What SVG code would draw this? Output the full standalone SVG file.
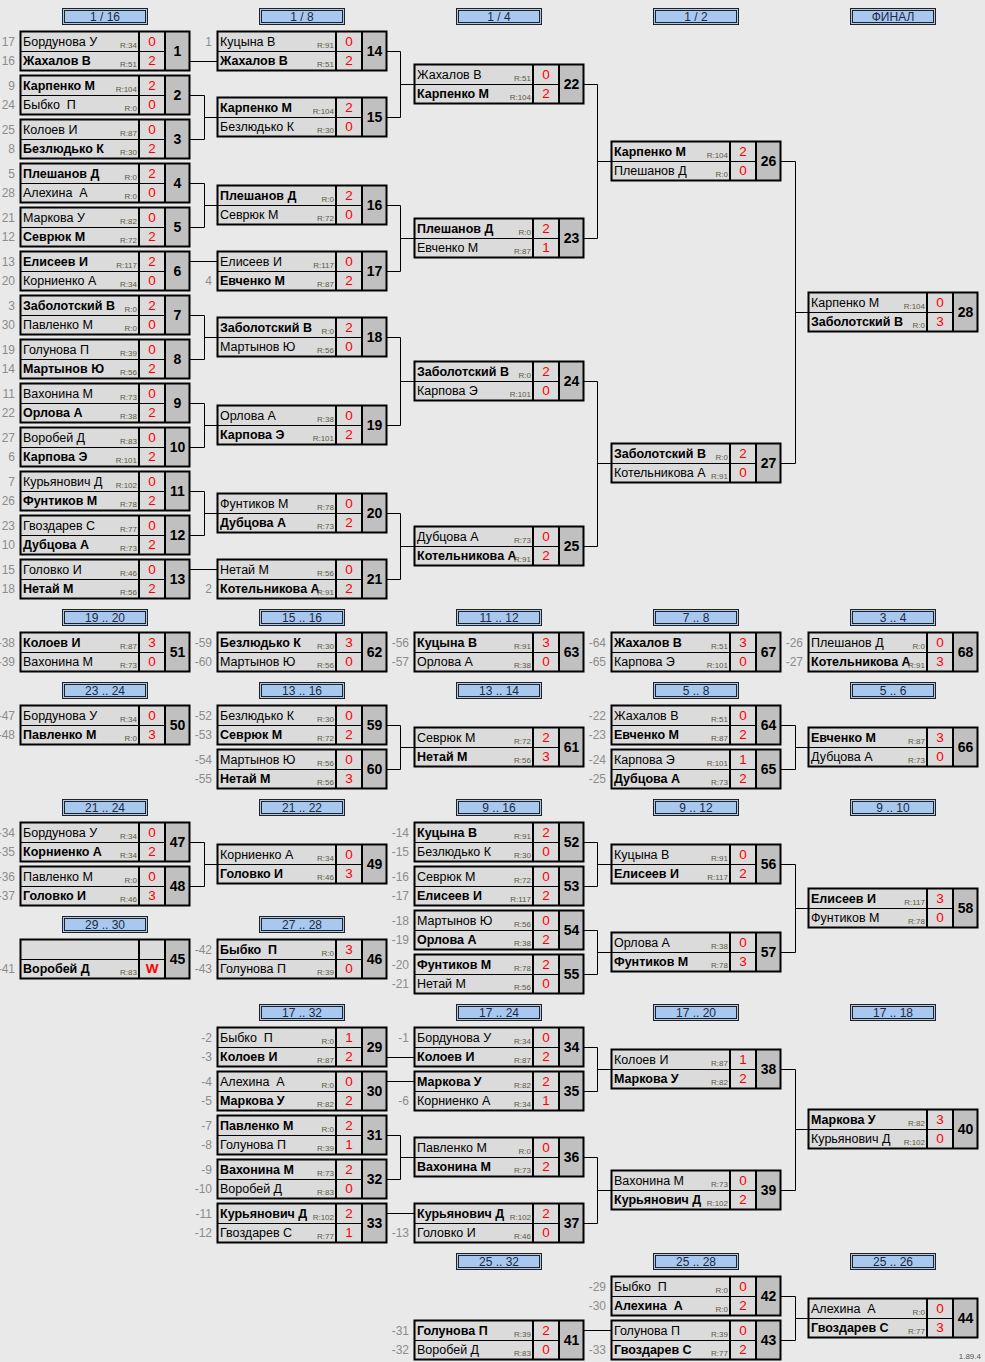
<svg xmlns="http://www.w3.org/2000/svg" width="985" height="1362" viewBox="0 0 985 1362">
<style>
text{font-family:"Liberation Sans",Arial,sans-serif}
.n{font-size:12.5px;fill:#000}
.w{font-weight:bold}
.r{font-size:8px;fill:#5e5845;text-anchor:end}
.s{font-size:13.5px;fill:#f00;text-anchor:middle}
.k{font-size:14px;font-weight:bold;text-anchor:middle;fill:#000}
.d{font-size:12px;fill:#8c8c8c;text-anchor:end}
.h{font-size:12px;fill:#1c2a44;text-anchor:middle}
.c{fill:none;stroke:#000;stroke-width:1}
</style>
<defs>
<g id="bx">
<rect x="0.5" y="0.5" width="169" height="39" fill="#dbdbdb"/>
<rect x="145" y="0.5" width="24.5" height="39" fill="#c0c0c0"/>
<path d="M1 20.5H145" stroke="#000" stroke-width="1"/>
<path d="M119 1V39M145 1V39" stroke="#000" stroke-width="2"/>
<rect x="0.5" y="0.5" width="169" height="39" fill="none" stroke="#000" stroke-width="2"/>
</g>
<g id="hd">
<rect x="0.5" y="0.5" width="85" height="16" fill="#a8c8f0" stroke="#222"/>
<rect x="2.5" y="2.5" width="81" height="12" fill="none" stroke="#222"/>
</g>
</defs>
<rect width="985" height="1362" fill="#e9e9e9"/>

<g id="headers">
<g transform="translate(62,8)"><use href="#hd"/><text class="h" x="43" y="13">1 / 16</text></g>
<g transform="translate(259,8)"><use href="#hd"/><text class="h" x="43" y="13">1 / 8</text></g>
<g transform="translate(456,8)"><use href="#hd"/><text class="h" x="43" y="13">1 / 4</text></g>
<g transform="translate(653,8)"><use href="#hd"/><text class="h" x="43" y="13">1 / 2</text></g>
<g transform="translate(850,8)"><use href="#hd"/><text class="h" x="43" y="13">ФИНАЛ</text></g>
<g transform="translate(62,609)"><use href="#hd"/><text class="h" x="43" y="13">19 .. 20</text></g>
<g transform="translate(259,609)"><use href="#hd"/><text class="h" x="43" y="13">15 .. 16</text></g>
<g transform="translate(456,609)"><use href="#hd"/><text class="h" x="43" y="13">11 .. 12</text></g>
<g transform="translate(653,609)"><use href="#hd"/><text class="h" x="43" y="13">7 .. 8</text></g>
<g transform="translate(850,609)"><use href="#hd"/><text class="h" x="43" y="13">3 .. 4</text></g>
<g transform="translate(62,682)"><use href="#hd"/><text class="h" x="43" y="13">23 .. 24</text></g>
<g transform="translate(259,682)"><use href="#hd"/><text class="h" x="43" y="13">13 .. 16</text></g>
<g transform="translate(456,682)"><use href="#hd"/><text class="h" x="43" y="13">13 .. 14</text></g>
<g transform="translate(653,682)"><use href="#hd"/><text class="h" x="43" y="13">5 .. 8</text></g>
<g transform="translate(850,682)"><use href="#hd"/><text class="h" x="43" y="13">5 .. 6</text></g>
<g transform="translate(62,799)"><use href="#hd"/><text class="h" x="43" y="13">21 .. 24</text></g>
<g transform="translate(259,799)"><use href="#hd"/><text class="h" x="43" y="13">21 .. 22</text></g>
<g transform="translate(456,799)"><use href="#hd"/><text class="h" x="43" y="13">9 .. 16</text></g>
<g transform="translate(653,799)"><use href="#hd"/><text class="h" x="43" y="13">9 .. 12</text></g>
<g transform="translate(850,799)"><use href="#hd"/><text class="h" x="43" y="13">9 .. 10</text></g>
<g transform="translate(62,916)"><use href="#hd"/><text class="h" x="43" y="13">29 .. 30</text></g>
<g transform="translate(259,916)"><use href="#hd"/><text class="h" x="43" y="13">27 .. 28</text></g>
<g transform="translate(259,1004)"><use href="#hd"/><text class="h" x="43" y="13">17 .. 32</text></g>
<g transform="translate(456,1004)"><use href="#hd"/><text class="h" x="43" y="13">17 .. 24</text></g>
<g transform="translate(653,1004)"><use href="#hd"/><text class="h" x="43" y="13">17 .. 20</text></g>
<g transform="translate(850,1004)"><use href="#hd"/><text class="h" x="43" y="13">17 .. 18</text></g>
<g transform="translate(456,1253)"><use href="#hd"/><text class="h" x="43" y="13">25 .. 32</text></g>
<g transform="translate(653,1253)"><use href="#hd"/><text class="h" x="43" y="13">25 .. 28</text></g>
<g transform="translate(850,1253)"><use href="#hd"/><text class="h" x="43" y="13">25 .. 26</text></g>
</g>

<g id="connectors" class="c">
<path d="M190 61.5H217"/>
<path d="M190 95.5H204.5V139.5H190M204.5 117.5H217"/>
<path d="M190 183.5H204.5V227.5H190M204.5 205.5H217"/>
<path d="M190 261.5H217"/>
<path d="M190 315.5H204.5V359.5H190M204.5 337.5H217"/>
<path d="M190 403.5H204.5V447.5H190M204.5 425.5H217"/>
<path d="M190 491.5H204.5V535.5H190M204.5 513.5H217"/>
<path d="M190 569.5H217"/>
<path d="M387 51.5H400.5V117.5H387M400.5 84.5H414"/>
<path d="M387 205.5H400.5V271.5H387M400.5 238.5H414"/>
<path d="M387 337.5H400.5V425.5H387M400.5 381.5H414"/>
<path d="M387 513.5H400.5V579.5H387M400.5 546.5H414"/>
<path d="M584 84.5H597.5V238.5H584M597.5 161.5H611"/>
<path d="M584 381.5H597.5V546.5H584M597.5 463.5H611"/>
<path d="M781 161.5H795.5V463.5H781M795.5 312.5H808"/>
<path d="M387 725.5H400.5V769.5H387M400.5 747.5H414"/>
<path d="M781 725.5H795.5V769.5H781M795.5 747.5H808"/>
<path d="M190 842.5H204.5V886.5H190M204.5 864.5H217"/>
<path d="M584 842.5H597.5V886.5H584M597.5 864.5H611"/>
<path d="M584 930.5H597.5V974.5H584M597.5 952.5H611"/>
<path d="M781 864.5H795.5V952.5H781M795.5 908.5H808"/>
<path d="M387 1057.5H414"/>
<path d="M387 1081.5H414"/>
<path d="M387 1135.5H400.5V1179.5H387M400.5 1157.5H414"/>
<path d="M387 1213.5H414"/>
<path d="M584 1047.5H597.5V1091.5H584M597.5 1069.5H611"/>
<path d="M584 1157.5H597.5V1223.5H584M597.5 1190.5H611"/>
<path d="M781 1069.5H795.5V1190.5H781M795.5 1129.5H808"/>
<path d="M584 1330.5H611"/>
<path d="M781 1296.5H795.5V1340.5H781M795.5 1318.5H808"/>
</g>

<g id="m1" transform="translate(20,31)"><use href="#bx"/><text class="d" x="-5" y="15">17</text><text class="d" x="-5" y="34">16</text><text class="n" x="3" y="15">Бордунова У</text><text class="r" x="117" y="17">R:34</text><text class="s" x="132" y="14.5">0</text><text class="n w" x="3" y="34">Жахалов В</text><text class="r" x="117" y="36">R:51</text><text class="s" x="132" y="33.5">2</text><text class="k" x="157.5" y="25">1</text></g>
<g id="m2" transform="translate(20,75)"><use href="#bx"/><text class="d" x="-5" y="15">9</text><text class="d" x="-5" y="34">24</text><text class="n w" x="3" y="15">Карпенко М</text><text class="r" x="117" y="17">R:104</text><text class="s" x="132" y="14.5">2</text><text class="n" x="3" y="34">Быбко&#160; П</text><text class="r" x="117" y="36">R:0</text><text class="s" x="132" y="33.5">0</text><text class="k" x="157.5" y="25">2</text></g>
<g id="m3" transform="translate(20,119)"><use href="#bx"/><text class="d" x="-5" y="15">25</text><text class="d" x="-5" y="34">8</text><text class="n" x="3" y="15">Колоев И</text><text class="r" x="117" y="17">R:87</text><text class="s" x="132" y="14.5">0</text><text class="n w" x="3" y="34">Безлюдько К</text><text class="r" x="117" y="36">R:30</text><text class="s" x="132" y="33.5">2</text><text class="k" x="157.5" y="25">3</text></g>
<g id="m4" transform="translate(20,163)"><use href="#bx"/><text class="d" x="-5" y="15">5</text><text class="d" x="-5" y="34">28</text><text class="n w" x="3" y="15">Плешанов Д</text><text class="r" x="117" y="17">R:0</text><text class="s" x="132" y="14.5">2</text><text class="n" x="3" y="34">Алехина&#160; А</text><text class="r" x="117" y="36">R:0</text><text class="s" x="132" y="33.5">0</text><text class="k" x="157.5" y="25">4</text></g>
<g id="m5" transform="translate(20,207)"><use href="#bx"/><text class="d" x="-5" y="15">21</text><text class="d" x="-5" y="34">12</text><text class="n" x="3" y="15">Маркова У</text><text class="r" x="117" y="17">R:82</text><text class="s" x="132" y="14.5">0</text><text class="n w" x="3" y="34">Севрюк М</text><text class="r" x="117" y="36">R:72</text><text class="s" x="132" y="33.5">2</text><text class="k" x="157.5" y="25">5</text></g>
<g id="m6" transform="translate(20,251)"><use href="#bx"/><text class="d" x="-5" y="15">13</text><text class="d" x="-5" y="34">20</text><text class="n w" x="3" y="15">Елисеев И</text><text class="r" x="117" y="17">R:117</text><text class="s" x="132" y="14.5">2</text><text class="n" x="3" y="34">Корниенко А</text><text class="r" x="117" y="36">R:34</text><text class="s" x="132" y="33.5">0</text><text class="k" x="157.5" y="25">6</text></g>
<g id="m7" transform="translate(20,295)"><use href="#bx"/><text class="d" x="-5" y="15">3</text><text class="d" x="-5" y="34">30</text><text class="n w" x="3" y="15">Заболотский В</text><text class="r" x="117" y="17">R:0</text><text class="s" x="132" y="14.5">2</text><text class="n" x="3" y="34">Павленко М</text><text class="r" x="117" y="36">R:0</text><text class="s" x="132" y="33.5">0</text><text class="k" x="157.5" y="25">7</text></g>
<g id="m8" transform="translate(20,339)"><use href="#bx"/><text class="d" x="-5" y="15">19</text><text class="d" x="-5" y="34">14</text><text class="n" x="3" y="15">Голунова П</text><text class="r" x="117" y="17">R:39</text><text class="s" x="132" y="14.5">0</text><text class="n w" x="3" y="34">Мартынов Ю</text><text class="r" x="117" y="36">R:56</text><text class="s" x="132" y="33.5">2</text><text class="k" x="157.5" y="25">8</text></g>
<g id="m9" transform="translate(20,383)"><use href="#bx"/><text class="d" x="-5" y="15">11</text><text class="d" x="-5" y="34">22</text><text class="n" x="3" y="15">Вахонина М</text><text class="r" x="117" y="17">R:73</text><text class="s" x="132" y="14.5">0</text><text class="n w" x="3" y="34">Орлова А</text><text class="r" x="117" y="36">R:38</text><text class="s" x="132" y="33.5">2</text><text class="k" x="157.5" y="25">9</text></g>
<g id="m10" transform="translate(20,427)"><use href="#bx"/><text class="d" x="-5" y="15">27</text><text class="d" x="-5" y="34">6</text><text class="n" x="3" y="15">Воробей Д</text><text class="r" x="117" y="17">R:83</text><text class="s" x="132" y="14.5">0</text><text class="n w" x="3" y="34">Карпова Э</text><text class="r" x="117" y="36">R:101</text><text class="s" x="132" y="33.5">2</text><text class="k" x="157.5" y="25">10</text></g>
<g id="m11" transform="translate(20,471)"><use href="#bx"/><text class="d" x="-5" y="15">7</text><text class="d" x="-5" y="34">26</text><text class="n" x="3" y="15">Курьянович Д</text><text class="r" x="117" y="17">R:102</text><text class="s" x="132" y="14.5">0</text><text class="n w" x="3" y="34">Фунтиков М</text><text class="r" x="117" y="36">R:78</text><text class="s" x="132" y="33.5">2</text><text class="k" x="157.5" y="25">11</text></g>
<g id="m12" transform="translate(20,515)"><use href="#bx"/><text class="d" x="-5" y="15">23</text><text class="d" x="-5" y="34">10</text><text class="n" x="3" y="15">Гвоздарев С</text><text class="r" x="117" y="17">R:77</text><text class="s" x="132" y="14.5">0</text><text class="n w" x="3" y="34">Дубцова А</text><text class="r" x="117" y="36">R:73</text><text class="s" x="132" y="33.5">2</text><text class="k" x="157.5" y="25">12</text></g>
<g id="m13" transform="translate(20,559)"><use href="#bx"/><text class="d" x="-5" y="15">15</text><text class="d" x="-5" y="34">18</text><text class="n" x="3" y="15">Головко И</text><text class="r" x="117" y="17">R:46</text><text class="s" x="132" y="14.5">0</text><text class="n w" x="3" y="34">Нетай М</text><text class="r" x="117" y="36">R:56</text><text class="s" x="132" y="33.5">2</text><text class="k" x="157.5" y="25">13</text></g>

<g id="m14" transform="translate(217,31)"><use href="#bx"/><text class="d" x="-5" y="15">1</text><text class="n" x="3" y="15">Куцына В</text><text class="r" x="117" y="17">R:91</text><text class="s" x="132" y="14.5">0</text><text class="n w" x="3" y="34">Жахалов В</text><text class="r" x="117" y="36">R:51</text><text class="s" x="132" y="33.5">2</text><text class="k" x="157.5" y="25">14</text></g>
<g id="m15" transform="translate(217,97)"><use href="#bx"/><text class="n w" x="3" y="15">Карпенко М</text><text class="r" x="117" y="17">R:104</text><text class="s" x="132" y="14.5">2</text><text class="n" x="3" y="34">Безлюдько К</text><text class="r" x="117" y="36">R:30</text><text class="s" x="132" y="33.5">0</text><text class="k" x="157.5" y="25">15</text></g>
<g id="m16" transform="translate(217,185)"><use href="#bx"/><text class="n w" x="3" y="15">Плешанов Д</text><text class="r" x="117" y="17">R:0</text><text class="s" x="132" y="14.5">2</text><text class="n" x="3" y="34">Севрюк М</text><text class="r" x="117" y="36">R:72</text><text class="s" x="132" y="33.5">0</text><text class="k" x="157.5" y="25">16</text></g>
<g id="m17" transform="translate(217,251)"><use href="#bx"/><text class="d" x="-5" y="34">4</text><text class="n" x="3" y="15">Елисеев И</text><text class="r" x="117" y="17">R:117</text><text class="s" x="132" y="14.5">0</text><text class="n w" x="3" y="34">Евченко М</text><text class="r" x="117" y="36">R:87</text><text class="s" x="132" y="33.5">2</text><text class="k" x="157.5" y="25">17</text></g>
<g id="m18" transform="translate(217,317)"><use href="#bx"/><text class="n w" x="3" y="15">Заболотский В</text><text class="r" x="117" y="17">R:0</text><text class="s" x="132" y="14.5">2</text><text class="n" x="3" y="34">Мартынов Ю</text><text class="r" x="117" y="36">R:56</text><text class="s" x="132" y="33.5">0</text><text class="k" x="157.5" y="25">18</text></g>
<g id="m19" transform="translate(217,405)"><use href="#bx"/><text class="n" x="3" y="15">Орлова А</text><text class="r" x="117" y="17">R:38</text><text class="s" x="132" y="14.5">0</text><text class="n w" x="3" y="34">Карпова Э</text><text class="r" x="117" y="36">R:101</text><text class="s" x="132" y="33.5">2</text><text class="k" x="157.5" y="25">19</text></g>
<g id="m20" transform="translate(217,493)"><use href="#bx"/><text class="n" x="3" y="15">Фунтиков М</text><text class="r" x="117" y="17">R:78</text><text class="s" x="132" y="14.5">0</text><text class="n w" x="3" y="34">Дубцова А</text><text class="r" x="117" y="36">R:73</text><text class="s" x="132" y="33.5">2</text><text class="k" x="157.5" y="25">20</text></g>
<g id="m21" transform="translate(217,559)"><use href="#bx"/><text class="d" x="-5" y="34">2</text><text class="n" x="3" y="15">Нетай М</text><text class="r" x="117" y="17">R:56</text><text class="s" x="132" y="14.5">0</text><text class="n w" x="3" y="34">Котельникова А</text><text class="r" x="117" y="36">R:91</text><text class="s" x="132" y="33.5">2</text><text class="k" x="157.5" y="25">21</text></g>

<g id="m22" transform="translate(414,64)"><use href="#bx"/><text class="n" x="3" y="15">Жахалов В</text><text class="r" x="117" y="17">R:51</text><text class="s" x="132" y="14.5">0</text><text class="n w" x="3" y="34">Карпенко М</text><text class="r" x="117" y="36">R:104</text><text class="s" x="132" y="33.5">2</text><text class="k" x="157.5" y="25">22</text></g>
<g id="m23" transform="translate(414,218)"><use href="#bx"/><text class="n w" x="3" y="15">Плешанов Д</text><text class="r" x="117" y="17">R:0</text><text class="s" x="132" y="14.5">2</text><text class="n" x="3" y="34">Евченко М</text><text class="r" x="117" y="36">R:87</text><text class="s" x="132" y="33.5">1</text><text class="k" x="157.5" y="25">23</text></g>
<g id="m24" transform="translate(414,361)"><use href="#bx"/><text class="n w" x="3" y="15">Заболотский В</text><text class="r" x="117" y="17">R:0</text><text class="s" x="132" y="14.5">2</text><text class="n" x="3" y="34">Карпова Э</text><text class="r" x="117" y="36">R:101</text><text class="s" x="132" y="33.5">0</text><text class="k" x="157.5" y="25">24</text></g>
<g id="m25" transform="translate(414,526)"><use href="#bx"/><text class="n" x="3" y="15">Дубцова А</text><text class="r" x="117" y="17">R:73</text><text class="s" x="132" y="14.5">0</text><text class="n w" x="3" y="34">Котельникова А</text><text class="r" x="117" y="36">R:91</text><text class="s" x="132" y="33.5">2</text><text class="k" x="157.5" y="25">25</text></g>
<g id="m26" transform="translate(611,141)"><use href="#bx"/><text class="n w" x="3" y="15">Карпенко М</text><text class="r" x="117" y="17">R:104</text><text class="s" x="132" y="14.5">2</text><text class="n" x="3" y="34">Плешанов Д</text><text class="r" x="117" y="36">R:0</text><text class="s" x="132" y="33.5">0</text><text class="k" x="157.5" y="25">26</text></g>
<g id="m27" transform="translate(611,443)"><use href="#bx"/><text class="n w" x="3" y="15">Заболотский В</text><text class="r" x="117" y="17">R:0</text><text class="s" x="132" y="14.5">2</text><text class="n" x="3" y="34">Котельникова А</text><text class="r" x="117" y="36">R:91</text><text class="s" x="132" y="33.5">0</text><text class="k" x="157.5" y="25">27</text></g>
<g id="m28" transform="translate(808,292)"><use href="#bx"/><text class="n" x="3" y="15">Карпенко М</text><text class="r" x="117" y="17">R:104</text><text class="s" x="132" y="14.5">0</text><text class="n w" x="3" y="34">Заболотский В</text><text class="r" x="117" y="36">R:0</text><text class="s" x="132" y="33.5">3</text><text class="k" x="157.5" y="25">28</text></g>

<g id="m51" transform="translate(20,632)"><use href="#bx"/><text class="d" x="-5" y="15">-38</text><text class="d" x="-5" y="34">-39</text><text class="n w" x="3" y="15">Колоев И</text><text class="r" x="117" y="17">R:87</text><text class="s" x="132" y="14.5">3</text><text class="n" x="3" y="34">Вахонина М</text><text class="r" x="117" y="36">R:73</text><text class="s" x="132" y="33.5">0</text><text class="k" x="157.5" y="25">51</text></g>
<g id="m62" transform="translate(217,632)"><use href="#bx"/><text class="d" x="-5" y="15">-59</text><text class="d" x="-5" y="34">-60</text><text class="n w" x="3" y="15">Безлюдько К</text><text class="r" x="117" y="17">R:30</text><text class="s" x="132" y="14.5">3</text><text class="n" x="3" y="34">Мартынов Ю</text><text class="r" x="117" y="36">R:56</text><text class="s" x="132" y="33.5">0</text><text class="k" x="157.5" y="25">62</text></g>
<g id="m63" transform="translate(414,632)"><use href="#bx"/><text class="d" x="-5" y="15">-56</text><text class="d" x="-5" y="34">-57</text><text class="n w" x="3" y="15">Куцына В</text><text class="r" x="117" y="17">R:91</text><text class="s" x="132" y="14.5">3</text><text class="n" x="3" y="34">Орлова А</text><text class="r" x="117" y="36">R:38</text><text class="s" x="132" y="33.5">0</text><text class="k" x="157.5" y="25">63</text></g>
<g id="m67" transform="translate(611,632)"><use href="#bx"/><text class="d" x="-5" y="15">-64</text><text class="d" x="-5" y="34">-65</text><text class="n w" x="3" y="15">Жахалов В</text><text class="r" x="117" y="17">R:51</text><text class="s" x="132" y="14.5">3</text><text class="n" x="3" y="34">Карпова Э</text><text class="r" x="117" y="36">R:101</text><text class="s" x="132" y="33.5">0</text><text class="k" x="157.5" y="25">67</text></g>
<g id="m68" transform="translate(808,632)"><use href="#bx"/><text class="d" x="-5" y="15">-26</text><text class="d" x="-5" y="34">-27</text><text class="n" x="3" y="15">Плешанов Д</text><text class="r" x="117" y="17">R:0</text><text class="s" x="132" y="14.5">0</text><text class="n w" x="3" y="34">Котельникова А</text><text class="r" x="117" y="36">R:91</text><text class="s" x="132" y="33.5">3</text><text class="k" x="157.5" y="25">68</text></g>

<g id="m50" transform="translate(20,705)"><use href="#bx"/><text class="d" x="-5" y="15">-47</text><text class="d" x="-5" y="34">-48</text><text class="n" x="3" y="15">Бордунова У</text><text class="r" x="117" y="17">R:34</text><text class="s" x="132" y="14.5">0</text><text class="n w" x="3" y="34">Павленко М</text><text class="r" x="117" y="36">R:0</text><text class="s" x="132" y="33.5">3</text><text class="k" x="157.5" y="25">50</text></g>
<g id="m59" transform="translate(217,705)"><use href="#bx"/><text class="d" x="-5" y="15">-52</text><text class="d" x="-5" y="34">-53</text><text class="n" x="3" y="15">Безлюдько К</text><text class="r" x="117" y="17">R:30</text><text class="s" x="132" y="14.5">0</text><text class="n w" x="3" y="34">Севрюк М</text><text class="r" x="117" y="36">R:72</text><text class="s" x="132" y="33.5">2</text><text class="k" x="157.5" y="25">59</text></g>
<g id="m60" transform="translate(217,749)"><use href="#bx"/><text class="d" x="-5" y="15">-54</text><text class="d" x="-5" y="34">-55</text><text class="n" x="3" y="15">Мартынов Ю</text><text class="r" x="117" y="17">R:56</text><text class="s" x="132" y="14.5">0</text><text class="n w" x="3" y="34">Нетай М</text><text class="r" x="117" y="36">R:56</text><text class="s" x="132" y="33.5">3</text><text class="k" x="157.5" y="25">60</text></g>
<g id="m61" transform="translate(414,727)"><use href="#bx"/><text class="n" x="3" y="15">Севрюк М</text><text class="r" x="117" y="17">R:72</text><text class="s" x="132" y="14.5">2</text><text class="n w" x="3" y="34">Нетай М</text><text class="r" x="117" y="36">R:56</text><text class="s" x="132" y="33.5">3</text><text class="k" x="157.5" y="25">61</text></g>
<g id="m64" transform="translate(611,705)"><use href="#bx"/><text class="d" x="-5" y="15">-22</text><text class="d" x="-5" y="34">-23</text><text class="n" x="3" y="15">Жахалов В</text><text class="r" x="117" y="17">R:51</text><text class="s" x="132" y="14.5">0</text><text class="n w" x="3" y="34">Евченко М</text><text class="r" x="117" y="36">R:87</text><text class="s" x="132" y="33.5">2</text><text class="k" x="157.5" y="25">64</text></g>
<g id="m65" transform="translate(611,749)"><use href="#bx"/><text class="d" x="-5" y="15">-24</text><text class="d" x="-5" y="34">-25</text><text class="n" x="3" y="15">Карпова Э</text><text class="r" x="117" y="17">R:101</text><text class="s" x="132" y="14.5">1</text><text class="n w" x="3" y="34">Дубцова А</text><text class="r" x="117" y="36">R:73</text><text class="s" x="132" y="33.5">2</text><text class="k" x="157.5" y="25">65</text></g>
<g id="m66" transform="translate(808,727)"><use href="#bx"/><text class="n w" x="3" y="15">Евченко М</text><text class="r" x="117" y="17">R:87</text><text class="s" x="132" y="14.5">3</text><text class="n" x="3" y="34">Дубцова А</text><text class="r" x="117" y="36">R:73</text><text class="s" x="132" y="33.5">0</text><text class="k" x="157.5" y="25">66</text></g>

<g id="m47" transform="translate(20,822)"><use href="#bx"/><text class="d" x="-5" y="15">-34</text><text class="d" x="-5" y="34">-35</text><text class="n" x="3" y="15">Бордунова У</text><text class="r" x="117" y="17">R:34</text><text class="s" x="132" y="14.5">0</text><text class="n w" x="3" y="34">Корниенко А</text><text class="r" x="117" y="36">R:34</text><text class="s" x="132" y="33.5">2</text><text class="k" x="157.5" y="25">47</text></g>
<g id="m48" transform="translate(20,866)"><use href="#bx"/><text class="d" x="-5" y="15">-36</text><text class="d" x="-5" y="34">-37</text><text class="n" x="3" y="15">Павленко М</text><text class="r" x="117" y="17">R:0</text><text class="s" x="132" y="14.5">0</text><text class="n w" x="3" y="34">Головко И</text><text class="r" x="117" y="36">R:46</text><text class="s" x="132" y="33.5">3</text><text class="k" x="157.5" y="25">48</text></g>
<g id="m49" transform="translate(217,844)"><use href="#bx"/><text class="n" x="3" y="15">Корниенко А</text><text class="r" x="117" y="17">R:34</text><text class="s" x="132" y="14.5">0</text><text class="n w" x="3" y="34">Головко И</text><text class="r" x="117" y="36">R:46</text><text class="s" x="132" y="33.5">3</text><text class="k" x="157.5" y="25">49</text></g>
<g id="m52" transform="translate(414,822)"><use href="#bx"/><text class="d" x="-5" y="15">-14</text><text class="d" x="-5" y="34">-15</text><text class="n w" x="3" y="15">Куцына В</text><text class="r" x="117" y="17">R:91</text><text class="s" x="132" y="14.5">2</text><text class="n" x="3" y="34">Безлюдько К</text><text class="r" x="117" y="36">R:30</text><text class="s" x="132" y="33.5">0</text><text class="k" x="157.5" y="25">52</text></g>
<g id="m53" transform="translate(414,866)"><use href="#bx"/><text class="d" x="-5" y="15">-16</text><text class="d" x="-5" y="34">-17</text><text class="n" x="3" y="15">Севрюк М</text><text class="r" x="117" y="17">R:72</text><text class="s" x="132" y="14.5">0</text><text class="n w" x="3" y="34">Елисеев И</text><text class="r" x="117" y="36">R:117</text><text class="s" x="132" y="33.5">2</text><text class="k" x="157.5" y="25">53</text></g>
<g id="m54" transform="translate(414,910)"><use href="#bx"/><text class="d" x="-5" y="15">-18</text><text class="d" x="-5" y="34">-19</text><text class="n" x="3" y="15">Мартынов Ю</text><text class="r" x="117" y="17">R:56</text><text class="s" x="132" y="14.5">0</text><text class="n w" x="3" y="34">Орлова А</text><text class="r" x="117" y="36">R:38</text><text class="s" x="132" y="33.5">2</text><text class="k" x="157.5" y="25">54</text></g>
<g id="m55" transform="translate(414,954)"><use href="#bx"/><text class="d" x="-5" y="15">-20</text><text class="d" x="-5" y="34">-21</text><text class="n w" x="3" y="15">Фунтиков М</text><text class="r" x="117" y="17">R:78</text><text class="s" x="132" y="14.5">2</text><text class="n" x="3" y="34">Нетай М</text><text class="r" x="117" y="36">R:56</text><text class="s" x="132" y="33.5">0</text><text class="k" x="157.5" y="25">55</text></g>
<g id="m56" transform="translate(611,844)"><use href="#bx"/><text class="n" x="3" y="15">Куцына В</text><text class="r" x="117" y="17">R:91</text><text class="s" x="132" y="14.5">0</text><text class="n w" x="3" y="34">Елисеев И</text><text class="r" x="117" y="36">R:117</text><text class="s" x="132" y="33.5">2</text><text class="k" x="157.5" y="25">56</text></g>
<g id="m57" transform="translate(611,932)"><use href="#bx"/><text class="n" x="3" y="15">Орлова А</text><text class="r" x="117" y="17">R:38</text><text class="s" x="132" y="14.5">0</text><text class="n w" x="3" y="34">Фунтиков М</text><text class="r" x="117" y="36">R:78</text><text class="s" x="132" y="33.5">3</text><text class="k" x="157.5" y="25">57</text></g>
<g id="m58" transform="translate(808,888)"><use href="#bx"/><text class="n w" x="3" y="15">Елисеев И</text><text class="r" x="117" y="17">R:117</text><text class="s" x="132" y="14.5">3</text><text class="n" x="3" y="34">Фунтиков М</text><text class="r" x="117" y="36">R:78</text><text class="s" x="132" y="33.5">0</text><text class="k" x="157.5" y="25">58</text></g>

<g id="m45" transform="translate(20,939)"><use href="#bx"/><text class="d" x="-5" y="34">-41</text><text class="n w" x="3" y="34">Воробей Д</text><text class="r" x="117" y="36">R:83</text><text class="s w" x="132" y="33.5">W</text><text class="k" x="157.5" y="25">45</text></g>
<g id="m46" transform="translate(217,939)"><use href="#bx"/><text class="d" x="-5" y="15">-42</text><text class="d" x="-5" y="34">-43</text><text class="n w" x="3" y="15">Быбко&#160; П</text><text class="r" x="117" y="17">R:0</text><text class="s" x="132" y="14.5">3</text><text class="n" x="3" y="34">Голунова П</text><text class="r" x="117" y="36">R:39</text><text class="s" x="132" y="33.5">0</text><text class="k" x="157.5" y="25">46</text></g>

<g id="m29" transform="translate(217,1027)"><use href="#bx"/><text class="d" x="-5" y="15">-2</text><text class="d" x="-5" y="34">-3</text><text class="n" x="3" y="15">Быбко&#160; П</text><text class="r" x="117" y="17">R:0</text><text class="s" x="132" y="14.5">1</text><text class="n w" x="3" y="34">Колоев И</text><text class="r" x="117" y="36">R:87</text><text class="s" x="132" y="33.5">2</text><text class="k" x="157.5" y="25">29</text></g>
<g id="m30" transform="translate(217,1071)"><use href="#bx"/><text class="d" x="-5" y="15">-4</text><text class="d" x="-5" y="34">-5</text><text class="n" x="3" y="15">Алехина&#160; А</text><text class="r" x="117" y="17">R:0</text><text class="s" x="132" y="14.5">0</text><text class="n w" x="3" y="34">Маркова У</text><text class="r" x="117" y="36">R:82</text><text class="s" x="132" y="33.5">2</text><text class="k" x="157.5" y="25">30</text></g>
<g id="m31" transform="translate(217,1115)"><use href="#bx"/><text class="d" x="-5" y="15">-7</text><text class="d" x="-5" y="34">-8</text><text class="n w" x="3" y="15">Павленко М</text><text class="r" x="117" y="17">R:0</text><text class="s" x="132" y="14.5">2</text><text class="n" x="3" y="34">Голунова П</text><text class="r" x="117" y="36">R:39</text><text class="s" x="132" y="33.5">1</text><text class="k" x="157.5" y="25">31</text></g>
<g id="m32" transform="translate(217,1159)"><use href="#bx"/><text class="d" x="-5" y="15">-9</text><text class="d" x="-5" y="34">-10</text><text class="n w" x="3" y="15">Вахонина М</text><text class="r" x="117" y="17">R:73</text><text class="s" x="132" y="14.5">2</text><text class="n" x="3" y="34">Воробей Д</text><text class="r" x="117" y="36">R:83</text><text class="s" x="132" y="33.5">0</text><text class="k" x="157.5" y="25">32</text></g>
<g id="m33" transform="translate(217,1203)"><use href="#bx"/><text class="d" x="-5" y="15">-11</text><text class="d" x="-5" y="34">-12</text><text class="n w" x="3" y="15">Курьянович Д</text><text class="r" x="117" y="17">R:102</text><text class="s" x="132" y="14.5">2</text><text class="n" x="3" y="34">Гвоздарев С</text><text class="r" x="117" y="36">R:77</text><text class="s" x="132" y="33.5">1</text><text class="k" x="157.5" y="25">33</text></g>
<g id="m34" transform="translate(414,1027)"><use href="#bx"/><text class="d" x="-5" y="15">-1</text><text class="n" x="3" y="15">Бордунова У</text><text class="r" x="117" y="17">R:34</text><text class="s" x="132" y="14.5">0</text><text class="n w" x="3" y="34">Колоев И</text><text class="r" x="117" y="36">R:87</text><text class="s" x="132" y="33.5">2</text><text class="k" x="157.5" y="25">34</text></g>
<g id="m35" transform="translate(414,1071)"><use href="#bx"/><text class="d" x="-5" y="34">-6</text><text class="n w" x="3" y="15">Маркова У</text><text class="r" x="117" y="17">R:82</text><text class="s" x="132" y="14.5">2</text><text class="n" x="3" y="34">Корниенко А</text><text class="r" x="117" y="36">R:34</text><text class="s" x="132" y="33.5">1</text><text class="k" x="157.5" y="25">35</text></g>
<g id="m36" transform="translate(414,1137)"><use href="#bx"/><text class="n" x="3" y="15">Павленко М</text><text class="r" x="117" y="17">R:0</text><text class="s" x="132" y="14.5">0</text><text class="n w" x="3" y="34">Вахонина М</text><text class="r" x="117" y="36">R:73</text><text class="s" x="132" y="33.5">2</text><text class="k" x="157.5" y="25">36</text></g>
<g id="m37" transform="translate(414,1203)"><use href="#bx"/><text class="d" x="-5" y="34">-13</text><text class="n w" x="3" y="15">Курьянович Д</text><text class="r" x="117" y="17">R:102</text><text class="s" x="132" y="14.5">2</text><text class="n" x="3" y="34">Головко И</text><text class="r" x="117" y="36">R:46</text><text class="s" x="132" y="33.5">0</text><text class="k" x="157.5" y="25">37</text></g>
<g id="m38" transform="translate(611,1049)"><use href="#bx"/><text class="n" x="3" y="15">Колоев И</text><text class="r" x="117" y="17">R:87</text><text class="s" x="132" y="14.5">1</text><text class="n w" x="3" y="34">Маркова У</text><text class="r" x="117" y="36">R:82</text><text class="s" x="132" y="33.5">2</text><text class="k" x="157.5" y="25">38</text></g>
<g id="m39" transform="translate(611,1170)"><use href="#bx"/><text class="n" x="3" y="15">Вахонина М</text><text class="r" x="117" y="17">R:73</text><text class="s" x="132" y="14.5">0</text><text class="n w" x="3" y="34">Курьянович Д</text><text class="r" x="117" y="36">R:102</text><text class="s" x="132" y="33.5">2</text><text class="k" x="157.5" y="25">39</text></g>
<g id="m40" transform="translate(808,1109)"><use href="#bx"/><text class="n w" x="3" y="15">Маркова У</text><text class="r" x="117" y="17">R:82</text><text class="s" x="132" y="14.5">3</text><text class="n" x="3" y="34">Курьянович Д</text><text class="r" x="117" y="36">R:102</text><text class="s" x="132" y="33.5">0</text><text class="k" x="157.5" y="25">40</text></g>

<g id="m41" transform="translate(414,1320)"><use href="#bx"/><text class="d" x="-5" y="15">-31</text><text class="d" x="-5" y="34">-32</text><text class="n w" x="3" y="15">Голунова П</text><text class="r" x="117" y="17">R:39</text><text class="s" x="132" y="14.5">2</text><text class="n" x="3" y="34">Воробей Д</text><text class="r" x="117" y="36">R:83</text><text class="s" x="132" y="33.5">0</text><text class="k" x="157.5" y="25">41</text></g>
<g id="m42" transform="translate(611,1276)"><use href="#bx"/><text class="d" x="-5" y="15">-29</text><text class="d" x="-5" y="34">-30</text><text class="n" x="3" y="15">Быбко&#160; П</text><text class="r" x="117" y="17">R:0</text><text class="s" x="132" y="14.5">0</text><text class="n w" x="3" y="34">Алехина&#160; А</text><text class="r" x="117" y="36">R:0</text><text class="s" x="132" y="33.5">2</text><text class="k" x="157.5" y="25">42</text></g>
<g id="m43" transform="translate(611,1320)"><use href="#bx"/><text class="d" x="-5" y="34">-33</text><text class="n" x="3" y="15">Голунова П</text><text class="r" x="117" y="17">R:39</text><text class="s" x="132" y="14.5">0</text><text class="n w" x="3" y="34">Гвоздарев С</text><text class="r" x="117" y="36">R:77</text><text class="s" x="132" y="33.5">2</text><text class="k" x="157.5" y="25">43</text></g>
<g id="m44" transform="translate(808,1298)"><use href="#bx"/><text class="n" x="3" y="15">Алехина&#160; А</text><text class="r" x="117" y="17">R:0</text><text class="s" x="132" y="14.5">0</text><text class="n w" x="3" y="34">Гвоздарев С</text><text class="r" x="117" y="36">R:77</text><text class="s" x="132" y="33.5">3</text><text class="k" x="157.5" y="25">44</text></g>

<text x="981" y="1359" text-anchor="end" style="font-size:8px;fill:#555">1.89.4</text>
</svg>
